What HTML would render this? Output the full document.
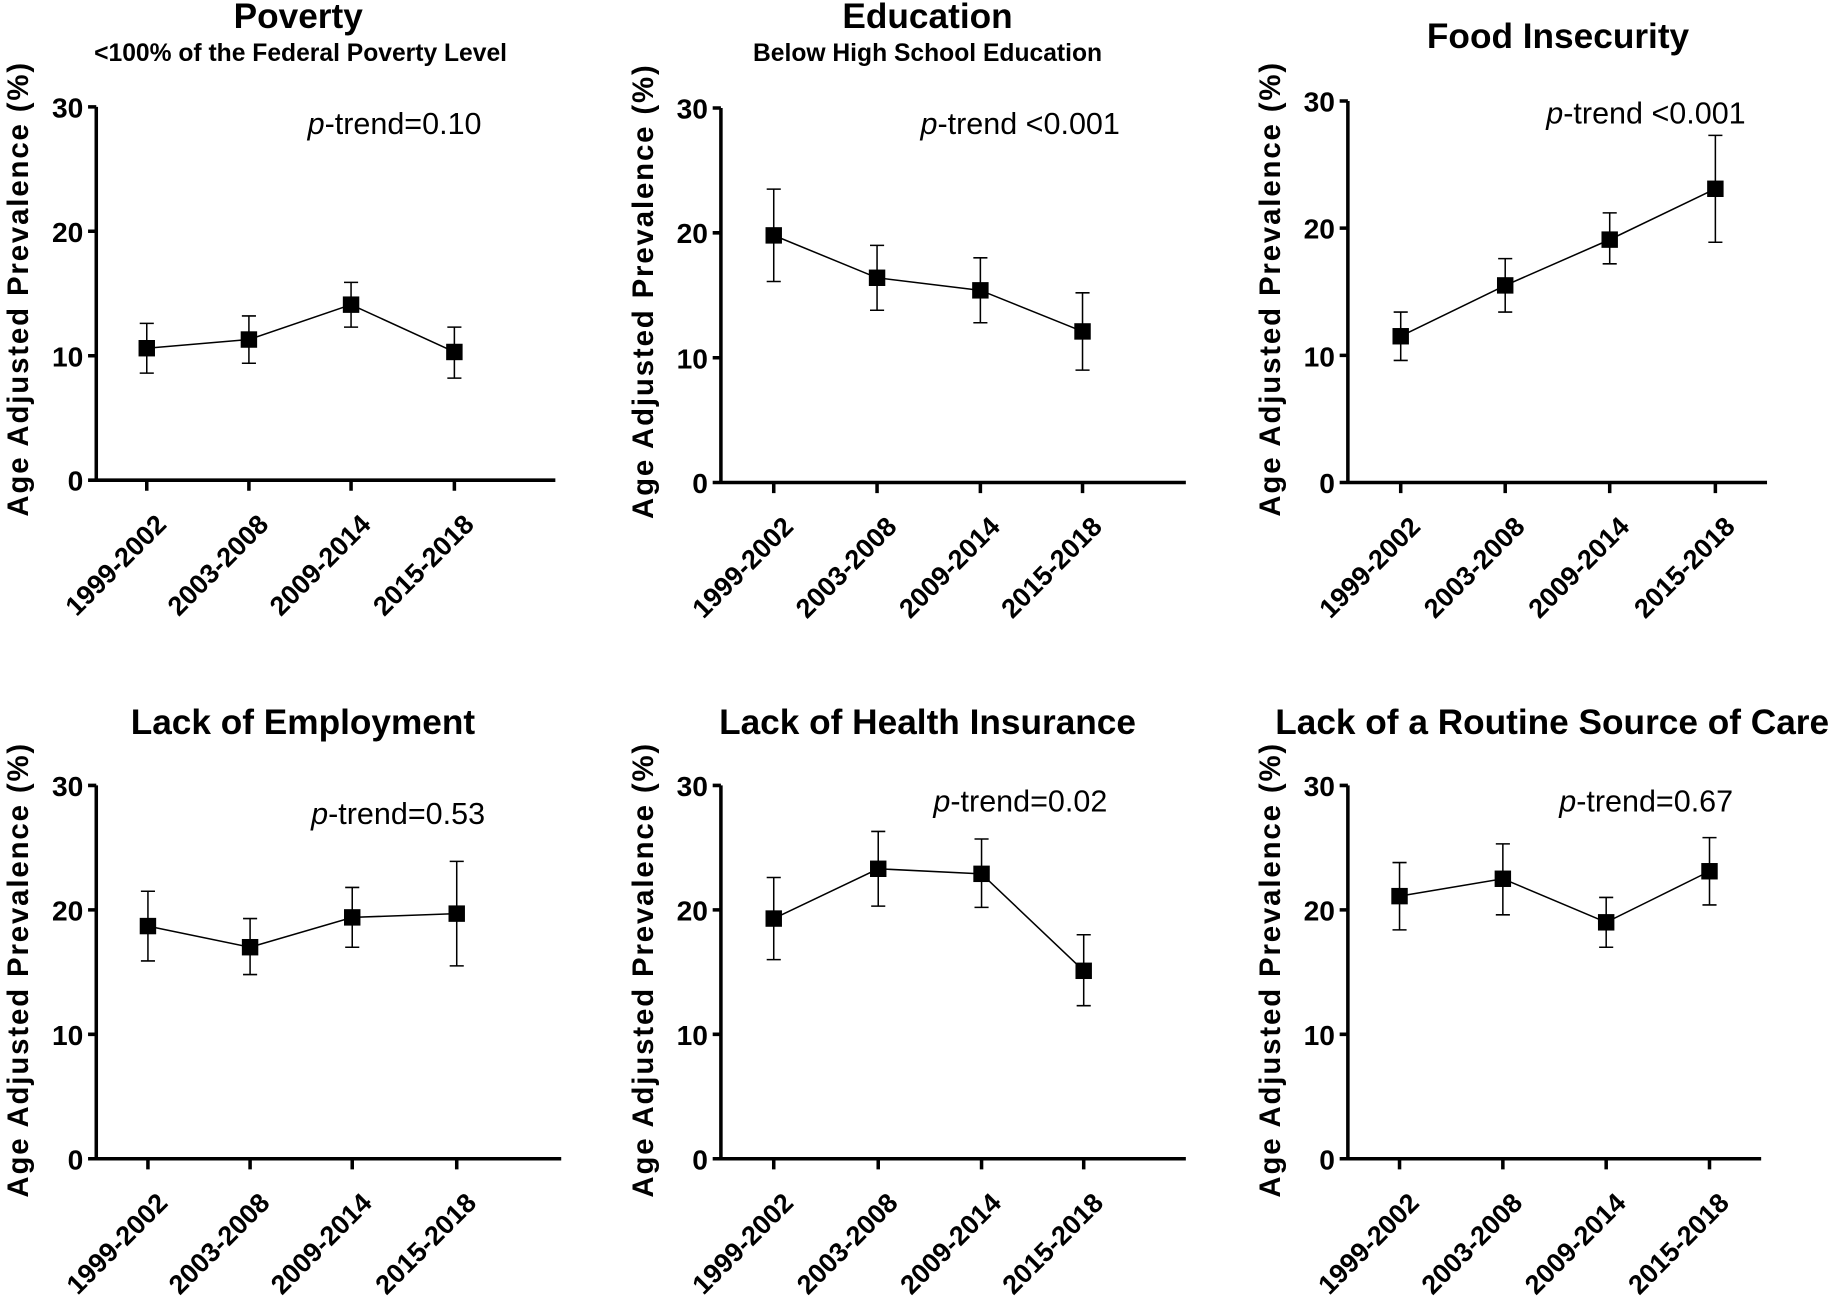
<!DOCTYPE html>
<html><head><meta charset="utf-8"><style>
html,body{margin:0;padding:0;background:#fff}
svg{display:block}
text{font-family:"Liberation Sans",Arial,sans-serif;fill:#000}
.t{font-weight:bold;font-size:30px;text-anchor:middle}
.st{font-weight:bold;font-size:21px;text-anchor:middle}
.yl{font-weight:bold;font-size:25px;text-anchor:middle;letter-spacing:1.6px}
.tk{font-weight:bold;font-size:24px;text-anchor:end}
.cat{font-weight:bold;font-size:23px;text-anchor:end}
.pt{font-size:26px;text-anchor:start}
.ax{stroke:#000;stroke-width:3;fill:none}
.ln{stroke:#000;stroke-width:1.3;fill:none}
.eb{stroke:#000;stroke-width:1.3;fill:none}
</style></head><body>
<svg width="1841" height="1302" viewBox="0 0 1568 1109" preserveAspectRatio="none" xmlns="http://www.w3.org/2000/svg">

<!-- Panel 1 -->
<g>
<text class="t" x="254" y="24">Poverty</text>
<text class="st" x="256" y="52">&lt;100% of the Federal Poverty Level</text>
<text class="yl" transform="translate(24,246) rotate(-90)">Age Adjusted  Prevalence (%)</text>
<path class="ax" d="M82,91 V409 H473 M75,91 H82 M75,197 H82 M75,303 H82 M75,409 H82 M125,409 V418 M212,409 V418 M299,409 V418 M387,409 V418"/>
<text class="tk" x="71" y="100">30</text><text class="tk" x="71" y="206">20</text><text class="tk" x="71" y="312">10</text><text class="tk" x="71" y="418">0</text>
<text class="cat" transform="translate(143,448) rotate(-45)">1999-2002</text>
<text class="cat" transform="translate(230,448) rotate(-45)">2003-2008</text>
<text class="cat" transform="translate(317,448) rotate(-45)">2009-2014</text>
<text class="cat" transform="translate(405,448) rotate(-45)">2015-2018</text>
<text class="pt" x="262" y="114"><tspan font-style="italic">p</tspan>-trend=0.10</text>
<polyline class="ln" points="125,296.6 212,289.2 299,259.5 387,299.8"/>
<path class="eb" d="M125,275.4V317.8M119,275.4H131M119,317.8H131 M212,269.1V309.4M206,269.1H218M206,309.4H218 M299,240.5V278.6M293,240.5H305M293,278.6H305 M387,278.6V322.1M381,278.6H393M381,322.1H393"/>
<rect x="118" y="289.6" width="14" height="14"/><rect x="205" y="282.2" width="14" height="14"/><rect x="292" y="252.5" width="14" height="14"/><rect x="380" y="292.8" width="14" height="14"/>
</g>

<!-- Panel 2 -->
<g>
<text class="t" x="790" y="24">Education</text>
<text class="st" x="790" y="52">Below High School Education</text>
<text class="yl" transform="translate(556,248) rotate(-90)">Age Adjusted  Prevalence (%)</text>
<path class="ax" d="M614,92 V411 H1010 M607,92 H614 M607,198.3 H614 M607,304.7 H614 M607,411 H614 M659,411 V420 M747,411 V420 M835,411 V420 M922,411 V420"/>
<text class="tk" x="603" y="101">30</text><text class="tk" x="603" y="207">20</text><text class="tk" x="603" y="314">10</text><text class="tk" x="603" y="420">0</text>
<text class="cat" transform="translate(677,450) rotate(-45)">1999-2002</text>
<text class="cat" transform="translate(765,450) rotate(-45)">2003-2008</text>
<text class="cat" transform="translate(853,450) rotate(-45)">2009-2014</text>
<text class="cat" transform="translate(940,450) rotate(-45)">2015-2018</text>
<text class="pt" x="784" y="114"><tspan font-style="italic">p</tspan>-trend &lt;0.001</text>
<polyline class="ln" points="659,200.5 747,236.6 835,247.3 922,282.3"/>
<path class="eb" d="M659,161.1V239.8M653,161.1H665M653,239.8H665 M747,209V264.3M741,209H753M741,264.3H753 M835,219.6V274.9M829,219.6H841M829,274.9H841 M922,249.4V315.3M916,249.4H928M916,315.3H928"/>
<rect x="652" y="193.5" width="14" height="14"/><rect x="740" y="229.6" width="14" height="14"/><rect x="828" y="240.3" width="14" height="14"/><rect x="915" y="275.3" width="14" height="14"/>
</g>

<!-- Panel 3 -->
<g>
<text class="t" x="1327" y="41">Food Insecurity</text>
<text class="yl" transform="translate(1090,246) rotate(-90)">Age Adjusted  Prevalence (%)</text>
<path class="ax" d="M1148,86 V411 H1505 M1141,86 H1148 M1141,194.3 H1148 M1141,302.7 H1148 M1141,411 H1148 M1193,411 V420 M1282,411 V420 M1371,411 V420 M1461,411 V420"/>
<text class="tk" x="1137" y="95">30</text><text class="tk" x="1137" y="203">20</text><text class="tk" x="1137" y="312">10</text><text class="tk" x="1137" y="420">0</text>
<text class="cat" transform="translate(1211,450) rotate(-45)">1999-2002</text>
<text class="cat" transform="translate(1300,450) rotate(-45)">2003-2008</text>
<text class="cat" transform="translate(1389,450) rotate(-45)">2009-2014</text>
<text class="cat" transform="translate(1479,450) rotate(-45)">2015-2018</text>
<text class="pt" x="1317" y="105"><tspan font-style="italic">p</tspan>-trend &lt;0.001</text>
<polyline class="ln" points="1193,286.4 1282,243.1 1371,204.1 1461,160.8"/>
<path class="eb" d="M1193,265.8V307M1187,265.8H1199M1187,307H1199 M1282,220.3V265.8M1276,220.3H1288M1276,265.8H1288 M1371,181.3V224.7M1365,181.3H1377M1365,224.7H1377 M1461,115.3V206.3M1455,115.3H1467M1455,206.3H1467"/>
<rect x="1186" y="279.4" width="14" height="14"/><rect x="1275" y="236.1" width="14" height="14"/><rect x="1364" y="197.1" width="14" height="14"/><rect x="1454" y="153.8" width="14" height="14"/>
</g>

<!-- Panel 4 -->
<g>
<text class="t" x="258" y="625">Lack of Employment</text>
<text class="yl" transform="translate(24,826) rotate(-90)">Age Adjusted  Prevalence (%)</text>
<path class="ax" d="M82,669 V987 H478 M75,669 H82 M75,775 H82 M75,881 H82 M75,987 H82 M126,987 V996 M213,987 V996 M300,987 V996 M389,987 V996"/>
<text class="tk" x="71" y="678">30</text><text class="tk" x="71" y="784">20</text><text class="tk" x="71" y="890">10</text><text class="tk" x="71" y="996">0</text>
<text class="cat" transform="translate(144,1026) rotate(-45)">1999-2002</text>
<text class="cat" transform="translate(231,1026) rotate(-45)">2003-2008</text>
<text class="cat" transform="translate(318,1026) rotate(-45)">2009-2014</text>
<text class="cat" transform="translate(407,1026) rotate(-45)">2015-2018</text>
<text class="pt" x="265" y="702"><tspan font-style="italic">p</tspan>-trend=0.53</text>
<polyline class="ln" points="126,788.8 213,806.8 300,781.4 389,778.2"/>
<path class="eb" d="M126,759.1V818.5M120,759.1H132M120,818.5H132 M213,782.4V830.1M207,782.4H219M207,830.1H219 M300,755.9V806.8M294,755.9H306M294,806.8H306 M389,733.7V822.7M383,733.7H395M383,822.7H395"/>
<rect x="119" y="781.8" width="14" height="14"/><rect x="206" y="799.8" width="14" height="14"/><rect x="293" y="774.4" width="14" height="14"/><rect x="382" y="771.2" width="14" height="14"/>
</g>

<!-- Panel 5 -->
<g>
<text class="t" x="790" y="625">Lack of Health Insurance</text>
<text class="yl" transform="translate(556,826) rotate(-90)">Age Adjusted  Prevalence (%)</text>
<path class="ax" d="M614,669 V987 H1010 M607,669 H614 M607,775 H614 M607,881 H614 M607,987 H614 M659,987 V996 M748,987 V996 M836,987 V996 M923,987 V996"/>
<text class="tk" x="603" y="678">30</text><text class="tk" x="603" y="784">20</text><text class="tk" x="603" y="890">10</text><text class="tk" x="603" y="996">0</text>
<text class="cat" transform="translate(677,1026) rotate(-45)">1999-2002</text>
<text class="cat" transform="translate(766,1026) rotate(-45)">2003-2008</text>
<text class="cat" transform="translate(854,1026) rotate(-45)">2009-2014</text>
<text class="cat" transform="translate(941,1026) rotate(-45)">2015-2018</text>
<text class="pt" x="795" y="691"><tspan font-style="italic">p</tspan>-trend=0.02</text>
<polyline class="ln" points="659,782.4 748,740 836,744.3 923,826.9"/>
<path class="eb" d="M659,747.4V817.4M653,747.4H665M653,817.4H665 M748,708.2V771.8M742,708.2H754M742,771.8H754 M836,714.6V772.9M830,714.6H842M830,772.9H842 M923,796.2V856.6M917,796.2H929M917,856.6H929"/>
<rect x="652" y="775.4" width="14" height="14"/><rect x="741" y="733" width="14" height="14"/><rect x="829" y="737.3" width="14" height="14"/><rect x="916" y="819.9" width="14" height="14"/>
</g>

<!-- Panel 6 -->
<g>
<text class="t" x="1322" y="625">Lack of a Routine Source of Care</text>
<text class="yl" transform="translate(1090,826) rotate(-90)">Age Adjusted  Prevalence (%)</text>
<path class="ax" d="M1148,669 V987 H1500 M1141,669 H1148 M1141,775 H1148 M1141,881 H1148 M1141,987 H1148 M1192,987 V996 M1280,987 V996 M1368,987 V996 M1456,987 V996"/>
<text class="tk" x="1137" y="678">30</text><text class="tk" x="1137" y="784">20</text><text class="tk" x="1137" y="890">10</text><text class="tk" x="1137" y="996">0</text>
<text class="cat" transform="translate(1210,1026) rotate(-45)">1999-2002</text>
<text class="cat" transform="translate(1298,1026) rotate(-45)">2003-2008</text>
<text class="cat" transform="translate(1386,1026) rotate(-45)">2009-2014</text>
<text class="cat" transform="translate(1474,1026) rotate(-45)">2015-2018</text>
<text class="pt" x="1328" y="691"><tspan font-style="italic">p</tspan>-trend=0.67</text>
<polyline class="ln" points="1192,763.3 1280,748.5 1368,785.6 1456,742.1"/>
<path class="eb" d="M1192,734.7V792M1186,734.7H1198M1186,792H1198 M1280,718.8V779.2M1274,718.8H1286M1274,779.2H1286 M1368,764.4V806.8M1362,764.4H1374M1362,806.8H1374 M1456,713.5V770.8M1450,713.5H1462M1450,770.8H1462"/>
<rect x="1185" y="756.3" width="14" height="14"/><rect x="1273" y="741.5" width="14" height="14"/><rect x="1361" y="778.6" width="14" height="14"/><rect x="1449" y="735.1" width="14" height="14"/>
</g>
</svg>
</body></html>
